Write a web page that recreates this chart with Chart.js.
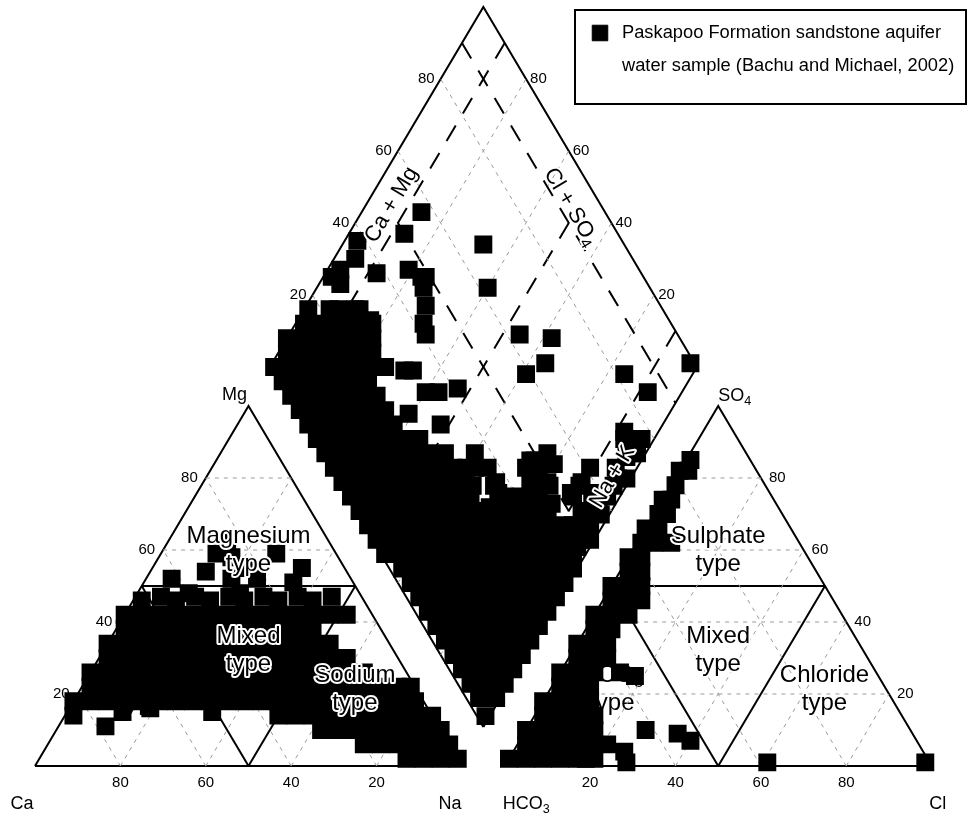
<!DOCTYPE html>
<html>
<head>
<meta charset="utf-8">
<title>Piper diagram – Paskapoo Formation sandstone aquifer</title>
<script src="https://cdn.jsdelivr.net/npm/chart.js@4.4.0/dist/chart.umd.min.js"></script>
<style>
  html, body { margin: 0; padding: 0; background: #ffffff; }
  #wrap { width: 969px; height: 821px; }
</style>
</head>
<body>
<div id="wrap"><canvas id="piper" width="969" height="821"></canvas></div>
<script>
// ---------------------------------------------------------------
// Water samples, milliequivalent percentages
// ---------------------------------------------------------------

// Cation triangle: [Ca, Mg, Na+K]
const cationSamples = [
  // magnesium-rich waters
  [24,62,14],[28,59,13],[25,58,17],[33,54,13],[23,55,22],[14,59,27],[10,55,35],[14,51,35],[22,52,26],
  [42,52,6],[40,48,12],[28,52,20],[28,48,24],
  [52,46,2],[47,47,6],[44,46,10],[39,47,14],[36,46,18],[31,47,22],[28,46,26],[23,47,30],[20,46,34],[15,47,38],[12,46,42],[7,47,46],
  [58,42,0],[54,42,4],[50,42,8],[46,42,12],[42,42,16],[38,42,20],[34,42,24],[30,42,28],[26,42,32],[22,42,36],[18,42,40],[14,42,44],[10,42,48],[6,42,52],
  [60,38,2],[56,38,6],[52,38,10],[48,38,14],[44,38,18],[40,38,22],[36,38,26],[32,38,30],[28,38,34],[24,38,38],[20,38,42],[16,38,46],
  [66,34,0],[62,34,4],[58,34,8],[54,34,12],[50,34,16],[46,34,20],[42,34,24],[38,34,28],[34,34,32],[30,34,36],[26,34,40],[22,34,44],[18,34,48],[14,34,52],
  [68,30,2],[64,30,6],[60,30,10],[56,30,14],[52,30,18],[48,30,22],[44,30,26],[40,30,30],[36,30,34],[32,30,38],[28,30,42],[24,30,46],[20,30,50],[16,30,54],[12,30,58],
  [74,26,0],[70,26,4],[66,26,8],[62,26,12],[58,26,16],[54,26,20],[50,26,24],[46,26,28],[42,26,32],[38,26,36],[34,26,40],[30,26,44],[26,26,48],[22,26,52],[18,26,56],[14,26,60],[10,26,64],
  [76,22,2],[72,22,6],[68,22,10],[64,22,14],[60,22,18],[56,22,22],[52,22,26],[48,22,30],[44,22,34],[40,22,38],[36,22,42],[32,22,46],[28,22,50],[24,22,54],[20,22,58],[16,22,62],[12,22,66],[8,22,70],[4,22,74],[1,22,77],
  [82,18,0],[78,18,4],[74,18,8],[70,18,12],[66,18,16],[62,18,20],[58,18,24],[54,18,28],[50,18,32],[46,18,36],[42,18,40],[38,18,44],[34,18,48],[30,18,52],[26,18,56],[22,18,60],[18,18,64],[14,18,68],[10,18,72],[6,18,76],[2,18,80],
  [84,14,2],[72,15,13],[65,16,19],[51,15,34],
  [36,14,50],[32,14,54],[28,14,58],[24,14,62],[20,14,66],[16,14,70],[12,14,74],[8,14,78],[4,14,82],[0,14,86],
  [78,11,11],
  [28,10,62],[24,10,66],[20,10,70],[16,10,74],[12,10,78],[8,10,82],[4,10,86],[0,10,90],
  [20,6,74],[16,6,78],[12,6,82],[8,6,86],[4,6,90],[0,6,94],
  [12,2,86],[8,2,90],[4,2,94],[0,2,98]
];

// Anion triangle: [HCO3+CO3, SO4, Cl]
const anionSamples = [
  [98,2,0],[94,2,4],[90,2,8],[86,2,12],[82,2,16],[78,2,20],
  [92,6,2],[88,6,6],[84,6,10],[80,6,14],[76,6,18],
  [90,10,0],[86,10,4],[82,10,8],[78,10,12],[74,10,16],
  [84,14,2],[80,14,6],[76,14,10],[72,14,14],
  [82,18,0],[78,18,4],[74,18,8],[71,18,11],
  [76,22,2],[72,22,6],[69,22,9],
  [74,26,0],[70,26,4],[66,26,8],
  [68,30,2],[64,30,6],[61,30,9],
  [66,34,0],[62,34,4],[59,34,7],
  [60,38,2],[56,38,6],
  [58,42,0],[54,42,4],[50,42,8],
  [52,46,2],[48,46,6],[45,46,9],
  [50,50,0],[46,50,4],[43,50,7],
  [44,54,2],[41,54,5],
  [42,58,0],[39,58,3],
  [37,62,1],[34,62,4],
  [34,66,0],[31,66,3],
  [29,70,1],[27,70,3],
  [26,74,0],[24,74,2],
  [21,78,1],
  [18,82,0],[16,82,2],
  [14,85,1],
  [30,62,8],[60,26,14],[57,25,18],[73,16,11],[75,11,14],[80,7,13],[78,5,17],[73,6,21],[70,4,26],
  [62,10,28],[55,9,36],[53,7,40],[71,1,28],[80,2,18],[38,1,61],[1,1,98]
];

// Central field: [Ca+Mg, Cl+SO4]
const diamondSamples = [
  // upper field
  [86,57],[87,50],[67,67],[60,62],[81,46],[77,48],[76,49],[75,47],[72,45],[70,42],[68,41],[46,63],[38,70],
  [36,65],[39,59],[88,38],[97,38],[95,35],[97,30],[98,27],[95,28],[94,22],[87,29],[83,30],[82,27],
  [16,82],[8,85],[2,99],[8,74],[3,77],[2,74],[73,27],[68,31],[66,33],[60,33],[57,36],[53,41],[61,26],[52,32],
  [40,36],[40,32],[36,31],[31,36],[29,32],[25,49],[26,46],[20,53],[18,49],[15,45],[11,56],[7,58],[7,49],
  [38,34],[29,36],[26,48],[15,47],[12,53],
  [3,47],[1,51],[4,54],[2,57],[5,60],[3,64],[3,66],[1,68],[4,71],
  // Ca-Mg-HCO3 corner
  [99,17],[92,24],[88,28],
  [98,14],[94,18],[90,22],[86,26],[82,30],
  [100,8],[96,12],[92,16],[88,20],[84,24],[80,28],
  [98,6],[94,10],[90,14],[86,18],[82,22],[78,26],
  [99,1],[95,5],[91,9],[87,13],[83,17],[79,21],[75,25],
  [95,1],[91,5],[87,9],[83,13],[79,17],[75,21],
  [91,1],[87,5],[83,9],[79,13],[75,17],[71,21],
  [87,1],[83,5],[79,9],[75,13],[71,17],[67,21],
  [83,1],[79,5],[75,9],[71,13],[67,17],[63,21],
  // transition towards the Na-HCO3 field
  [79,1],[75,5],[71,9],[67,13],[63,17],[59,21],[55,25],[7,73],[3,77],
  [75,1],[71,5],[67,9],[63,13],[59,17],[55,21],[51,25],[47,29],[23,53],[3,73],
  [71,1],[67,5],[63,9],[59,13],[55,17],[51,21],[47,25],[43,29],[35,37],[23,49],[11,61],[5,67],
  [67,1],[63,5],[59,9],[55,13],[51,17],[47,21],[43,25],[39,29],[31,37],[23,45],[19,49],[11,57],
  [63,1],[59,5],[55,9],[51,13],[47,17],[43,21],[39,25],[35,29],[27,37],[23,41],[19,45],[11,53],[3,61],
  [59,1],[55,5],[51,9],[47,13],[43,17],[39,21],[35,25],[31,29],[27,33],[23,37],[19,41],[15,45],[7,53],[3,57],
  [55,1],[51,5],[47,9],[43,13],[39,17],[35,21],[31,25],[27,29],[23,33],[19,37],[15,41],[11,45],[7,49],[3,53],
  [51,1],[47,5],[43,9],[39,13],[35,17],[31,21],[27,25],[23,29],[19,33],[15,37],[11,41],[7,45],[3,49],
  [47,1],[43,5],[39,9],[35,13],[31,17],[27,21],[23,25],[19,29],[15,33],[11,37],[7,41],[3,45],
  // Na-HCO3 lower field
  [41,3],[37,7],[33,11],[29,15],[25,19],[21,23],[17,27],[13,31],[9,35],[5,39],[1,43],
  [37,3],[33,7],[29,11],[25,15],[21,19],[17,23],[13,27],[9,31],[5,35],[1,39],
  [33,3],[29,7],[25,11],[21,15],[17,19],[13,23],[9,27],[5,31],[1,35],
  [29,3],[25,7],[21,11],[17,15],[13,19],[9,23],[5,27],[1,31],
  [25,3],[21,7],[17,11],[13,15],[9,19],[5,23],[1,27],
  [21,3],[17,7],[13,11],[9,15],[5,19],[1,23],
  [17,3],[13,7],[9,11],[5,15],[1,19],
  [13,3],[9,7],[5,11],[1,15],
  [9,3],[5,7],[1,11],
  [5,3],[1,7],
  [1,2]
];

// Scale annotations
const gridSteps = [20, 40, 60, 80];
const cationCorners = ['Ca', 'Mg', 'Na'];
const anionCorners = ['HCO_3', 'SO_4', 'Cl'];
const diamondAxisTitles = ['Ca + Mg', 'Cl + SO_4', 'CO_3 + HCO_3', 'Na + K'];
const legendLines = ['Paskapoo Formation sandstone aquifer', 'water sample (Bachu and Michael, 2002)'];

// ---------------------------------------------------------------
// Diagram geometry (triangle side = 100 units)
// ---------------------------------------------------------------
const SIDE = 100;
const H = SIDE * Math.sqrt(3) / 2;
const GAP = 10;           // space between the two triangles
const DIAMOND_LIFT = 9.4; // bottom vertex of the diamond above the baseline
const X_MIN = -8.197, X_MAX = 218.735;
const Y_MIN = -13.231, Y_MAX = 184.267;

function cationXY(ca, mg, na) {
  const t = ca + mg + na;
  return { x: (na + mg / 2) / t * SIDE, y: mg / t * H };
}
function anionXY(hco3, so4, cl) {
  const t = hco3 + so4 + cl;
  return { x: SIDE + GAP + (cl + so4 / 2) / t * SIDE, y: so4 / t * H };
}
function diamondXY(camg, clso4) {
  return {
    x: SIDE + GAP / 2 + (clso4 - camg) / 200 * SIDE,
    y: DIAMOND_LIFT + (camg + clso4) / 100 * H
  };
}

// ---------------------------------------------------------------
// Line work
// ---------------------------------------------------------------
const lineSets = [];
function addLine(points, style) {
  lineSets.push(Object.assign({
    data: points,
    showLine: true,
    pointRadius: 0,
    pointHoverRadius: 0,
    fill: false,
    tension: 0,
    borderColor: '#000',
    borderWidth: 2
  }, style));
}
const gridStyle = { borderColor: '#9a9a9a', borderWidth: 1, borderDash: [4, 5] };
const outlineStyle = { borderColor: '#000', borderWidth: 2 };
const faciesDash = { borderColor: '#000', borderWidth: 2, borderDash: [18, 14] };

gridSteps.forEach(k => {
  addLine([cationXY(100 - k, k, 0), cationXY(0, k, 100 - k)], gridStyle);
  addLine([cationXY(k, 0, 100 - k), cationXY(k, 100 - k, 0)], gridStyle);
  addLine([cationXY(100 - k, 0, k), cationXY(0, 100 - k, k)], gridStyle);
  addLine([anionXY(100 - k, k, 0), anionXY(0, k, 100 - k)], gridStyle);
  addLine([anionXY(k, 0, 100 - k), anionXY(k, 100 - k, 0)], gridStyle);
  addLine([anionXY(100 - k, 0, k), anionXY(0, 100 - k, k)], gridStyle);
  addLine([diamondXY(k, 0), diamondXY(k, 100)], gridStyle);
  addLine([diamondXY(0, k), diamondXY(100, k)], gridStyle);
});

// water-type boundaries at 50 %
addLine([cationXY(50, 50, 0), cationXY(0, 50, 50)], outlineStyle);
addLine([cationXY(50, 50, 0), cationXY(50, 0, 50)], outlineStyle);
addLine([cationXY(0, 50, 50), cationXY(50, 0, 50)], outlineStyle);
addLine([anionXY(50, 50, 0), anionXY(0, 50, 50)], outlineStyle);
addLine([anionXY(50, 50, 0), anionXY(50, 0, 50)], outlineStyle);
addLine([anionXY(0, 50, 50), anionXY(50, 0, 50)], outlineStyle);

// hydrochemical facies limits in the central field
addLine([diamondXY(100, 90), diamondXY(0, 90)], faciesDash);
addLine([diamondXY(90, 100), diamondXY(90, 0)], faciesDash);
addLine([diamondXY(10, 100), diamondXY(10, 0)], faciesDash);
addLine([diamondXY(100, 10), diamondXY(0, 10)], faciesDash);
addLine([diamondXY(90, 50), diamondXY(10, 50)], faciesDash);
addLine([diamondXY(50, 90), diamondXY(50, 10)], faciesDash);

// outlines
addLine([cationXY(100, 0, 0), cationXY(0, 0, 100), cationXY(0, 100, 0), cationXY(100, 0, 0)], outlineStyle);
addLine([anionXY(100, 0, 0), anionXY(0, 0, 100), anionXY(0, 100, 0), anionXY(100, 0, 0)], outlineStyle);
addLine([diamondXY(0, 0), diamondXY(0, 100), diamondXY(100, 100), diamondXY(100, 0), diamondXY(0, 0)], outlineStyle);

// ---------------------------------------------------------------
// Sample markers
// ---------------------------------------------------------------
const markerStyle = {
  showLine: false,
  pointStyle: 'rect',
  pointRadius: 11.4,
  pointHoverRadius: 11.4,
  pointBackgroundColor: '#000',
  pointBorderColor: '#000',
  pointBorderWidth: 1.8
};
const sampleSets = [
  Object.assign({ label: legendLines.join(' '), data: cationSamples.map(s => cationXY(s[0], s[1], s[2])) }, markerStyle),
  Object.assign({ label: 'anions', data: anionSamples.map(s => anionXY(s[0], s[1], s[2])) }, markerStyle),
  Object.assign({ label: 'central field', data: diamondSamples.map(s => diamondXY(s[0], s[1])) }, markerStyle)
];

// ---------------------------------------------------------------
// Text
// ---------------------------------------------------------------
const FONT = '"Liberation Sans", Arial, Helvetica, sans-serif';

// "SO_4" -> "SO" followed by a subscript "4"
function runsOf(label) {
  const runs = [];
  label.split(/(_\d)/).forEach(part => {
    if (!part) return;
    if (part[0] === '_') runs.push({ t: part.slice(1), sub: true });
    else runs.push({ t: part, sub: false });
  });
  return runs;
}

function drawRich(ctx, label, px, py, size, align, angle, halo) {
  const parts = runsOf(label).map(r => {
    const s = r.sub ? size * 0.7 : size;
    ctx.font = s + 'px ' + FONT;
    return { t: r.t, s: s, w: ctx.measureText(r.t).width, off: r.sub ? size * 0.3 : 0 };
  });
  const total = parts.reduce((a, p) => a + p.w, 0);
  ctx.save();
  ctx.translate(px, py);
  ctx.rotate(angle || 0);
  ctx.textBaseline = 'middle';
  ctx.textAlign = 'left';
  const start = align === 'center' ? -total / 2 : (align === 'right' ? -total : 0);
  if (halo) {
    let hx = start;
    ctx.strokeStyle = '#fff';
    ctx.lineWidth = 4;
    ctx.lineJoin = 'round';
    parts.forEach(p => { ctx.font = p.s + 'px ' + FONT; ctx.strokeText(p.t, hx, p.off); hx += p.w; });
  }
  let cx = start;
  ctx.fillStyle = '#000';
  parts.forEach(p => { ctx.font = p.s + 'px ' + FONT; ctx.fillText(p.t, cx, p.off); cx += p.w; });
  ctx.restore();
}

// water-type names; "over" = written on top of the sample markers
const fieldNames = [
  { lines: ['Magnesium', 'type'], at: cationXY(20, 60, 20), over: true },
  { lines: ['Mixed', 'type'], at: cationXY(34, 32, 34), over: true },
  { lines: ['Calcium', 'type'], at: cationXY(64.2, 21.4, 14.4), over: false },
  { lines: ['Sodium', 'type'], at: cationXY(14.4, 21.4, 64.2), over: true },
  { lines: ['Sulphate', 'type'], at: anionXY(20, 60, 20), over: true },
  { lines: ['Mixed', 'type'], at: anionXY(34, 32, 34), over: true },
  { lines: ['HCO_3', 'type'], at: anionXY(64.2, 21.4, 14.4), over: false },
  { lines: ['Chloride', 'type'], at: anionXY(14.4, 21.4, 64.2), over: true }
];

function drawFieldNames(chart, over) {
  const ctx = chart.ctx, sx = chart.scales.x, sy = chart.scales.y;
  fieldNames.filter(f => f.over === over).forEach(f => {
    const x = sx.getPixelForValue(f.at.x), y = sy.getPixelForValue(f.at.y);
    drawRich(ctx, f.lines[0], x, y - 14, 24, 'center', 0, over);
    drawRich(ctx, f.lines[1], x, y + 14, 24, 'center', 0, over);
  });
}

function diamondAngles(P) {
  const L = P(diamondXY(100, 0)), T = P(diamondXY(100, 100)), B = P(diamondXY(0, 0));
  return { up: Math.atan2(T.y - L.y, T.x - L.x), down: Math.atan2(B.y - L.y, B.x - L.x) };
}

const labelPlugin = {
  id: 'piperLabels',
  beforeDatasetsDraw(chart) {
    const sx = chart.scales.x, sy = chart.scales.y;
    const P = p => ({ x: sx.getPixelForValue(p.x), y: sy.getPixelForValue(p.y) });
    const ang = diamondAngles(P);
    drawFieldNames(chart, false);
    const p = P(diamondXY(44, 4.7));
    drawRich(chart.ctx, diamondAxisTitles[2], p.x, p.y, 22, 'center', ang.down, false);
  },
  afterDatasetsDraw(chart) {
    const ctx = chart.ctx;
    const sx = chart.scales.x, sy = chart.scales.y;
    const P = p => ({ x: sx.getPixelForValue(p.x), y: sy.getPixelForValue(p.y) });
    const tick = 15, corner = 18, axis = 22;

    // triangle and diamond scales
    gridSteps.forEach(k => {
      let p = P(cationXY(k, 0, 100 - k));
      drawRich(ctx, String(k), p.x, p.y + 17, tick, 'center');
      p = P(cationXY(100 - k, k, 0));
      drawRich(ctx, String(k), p.x - 8, p.y, tick, 'right');
      p = P(anionXY(100 - k, 0, k));
      drawRich(ctx, String(k), p.x, p.y + 17, tick, 'center');
      p = P(anionXY(0, k, 100 - k));
      drawRich(ctx, String(k), p.x + 8, p.y, tick, 'left');
      p = P(diamondXY(100, k));
      drawRich(ctx, String(k), p.x - 6, p.y, tick, 'right');
      p = P(diamondXY(k, 100));
      drawRich(ctx, String(k), p.x + 4, p.y, tick, 'left');
    });

    // apex names
    let p = P(cationXY(100, 0, 0));
    drawRich(ctx, cationCorners[0], p.x - 13, p.y + 38, corner, 'center');
    p = P(cationXY(0, 100, 0));
    drawRich(ctx, cationCorners[1], p.x - 14, p.y - 11, corner, 'center');
    p = P(cationXY(0, 0, 100));
    drawRich(ctx, cationCorners[2], p.x - 12, p.y + 38, corner, 'center');
    p = P(anionXY(100, 0, 0));
    drawRich(ctx, anionCorners[0], p.x - 2, p.y + 38, corner, 'left');
    p = P(anionXY(0, 100, 0));
    drawRich(ctx, anionCorners[1], p.x, p.y - 10, corner, 'left');
    p = P(anionXY(0, 0, 100));
    drawRich(ctx, anionCorners[2], p.x + 6, p.y + 38, corner, 'center');

    // diamond side titles, written along the sides
    const ang = diamondAngles(P);
    p = P(diamondXY(94, 51));
    drawRich(ctx, diamondAxisTitles[0], p.x, p.y, axis, 'center', ang.up, true);
    p = P(diamondXY(51.7, 92.7));
    drawRich(ctx, diamondAxisTitles[1], p.x, p.y, axis, 'center', ang.down, true);
    p = P(diamondXY(4.5, 65));
    drawRich(ctx, diamondAxisTitles[3], p.x, p.y, axis, 'center', ang.up, true);

    drawFieldNames(chart, true);
  },
  afterDraw(chart) {
    // legend frame in the upper right corner
    const ctx = chart.ctx;
    const box = { left: 575, top: 10, width: 391, height: 94 };
    ctx.save();
    ctx.fillStyle = '#fff';
    ctx.fillRect(box.left, box.top, box.width, box.height);
    ctx.strokeStyle = '#000';
    ctx.lineWidth = 2;
    ctx.strokeRect(box.left, box.top, box.width, box.height);
    const ds = chart.data.datasets[0];
    ctx.fillStyle = ds.pointBackgroundColor;
    ctx.strokeStyle = ds.pointBorderColor;
    ctx.lineWidth = 1;
    Chart.helpers.drawPoint(ctx, {
      pointStyle: ds.pointStyle,
      radius: 11,
      borderWidth: 1
    }, box.left + 25, box.top + 23);
    ctx.restore();
    drawRich(ctx, legendLines[0], box.left + 47, box.top + 23, 18.3, 'left');
    drawRich(ctx, legendLines[1], box.left + 47, box.top + 56, 18.3, 'left');
  }
};

new Chart(document.getElementById('piper'), {
  type: 'scatter',
  data: { datasets: sampleSets.concat(lineSets) },
  options: {
    responsive: false,
    animation: false,
    events: [],
    layout: { padding: 0, autoPadding: false },
    plugins: { legend: { display: false }, tooltip: { enabled: false } },
    scales: {
      x: { type: 'linear', min: X_MIN, max: X_MAX, display: false },
      y: { type: 'linear', min: Y_MIN, max: Y_MAX, display: false }
    }
  },
  plugins: [labelPlugin]
});
</script>
</body>
</html>
